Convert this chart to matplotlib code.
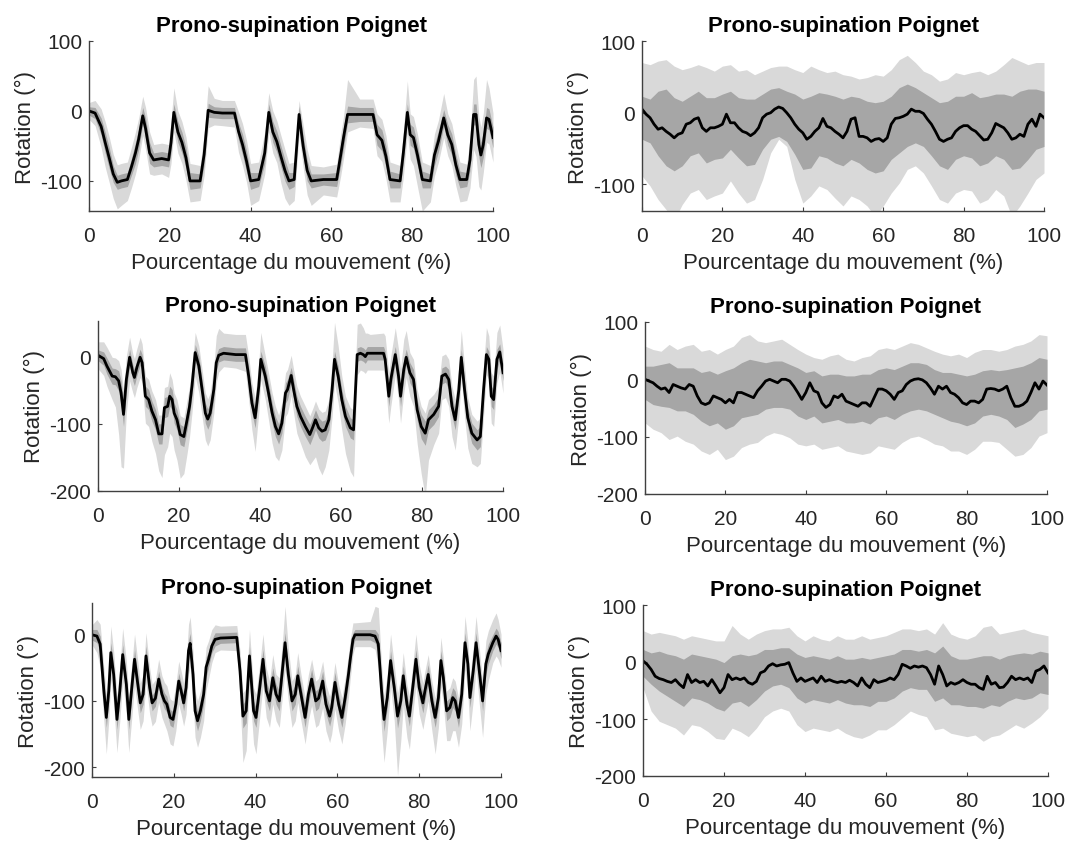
import matplotlib
matplotlib.use("Agg")
import matplotlib.pyplot as plt
import numpy as np

plt.rcParams['font.family'] = ['Liberation Sans', 'DejaVu Sans']
plt.rcParams['axes.unicode_minus'] = False

TITLE = "Prono-supination Poignet"
XLABEL = "Pourcentage du mouvement (%)"
YLABEL = "Rotation (°)"

LIGHT = "#d9d9d9"
DARK = "#a6a6a6"
AXCOL = "#404040"

# ---- left column: mean curve keypoints + band widths (inner, outer up, outer down)
p1_x = [0, 1.5, 3, 4, 5, 6, 7, 8, 9.5, 10.5, 11.5, 12.3, 13.3, 14, 15, 16, 18, 19.7, 20.3, 21,
        22, 23, 24, 25, 27.5, 28.5, 29.5, 31, 33, 36, 37, 38, 39, 40, 42, 43.5, 44.5, 45.5, 46.5, 47.5,
        48.5, 49.5, 50.8, 52, 53, 54, 55, 58, 61.3, 62.3, 63, 64, 67, 70.3, 71.3, 72.5, 73.5, 74.5, 77, 77.8,
        78.8, 79.5, 80.3, 81.3, 82.5, 84.5, 85.5, 86.5, 87.8, 88.8, 89.8, 90.8, 91.8, 93.5, 94.3, 95.2, 95.8, 96.5, 97, 97.6,
        98.4, 99, 100]
p1_y = [0, -3, -22, -45, -67, -90, -102, -100, -98, -80, -60, -40, -7, -25, -60, -70, -68, -70, -45, -2,
        -30, -45, -67, -100, -100, -62, 1, -2, -3, -3, -29, -48, -72, -100, -98, -60, -2, -30, -44, -65,
        -85, -100, -98, -5, -50, -85, -100, -98, -98, -63, -38, -5, -5, -5, -34, -42, -65, -98, -100, -60,
        -2, -34, -38, -63, -98, -100, -63, -43, -10, -34, -48, -77, -98, -98, -70, -5, -5, -48, -63, -48,
        -10, -12, -38]
p1_in = [6, 8, 12, 15, 15, 12, 10, 10, 10, 12, 15, 15, 12, 15, 15, 10, 10, 10, 15, 12,
         15, 15, 15, 12, 10, 15, 10, 8, 8, 8, 12, 15, 15, 12, 10, 15, 12, 15, 15, 15,
         15, 12, 10, 12, 15, 15, 10, 8, 10, 15, 15, 12, 10, 10, 15, 15, 15, 12, 10, 15,
         12, 15, 15, 15, 12, 10, 15, 15, 12, 15, 15, 15, 12, 10, 15, 15, 15, 18, 18, 18,
         15, 15, 15]
p1_up = [12, 18, 25, 30, 30, 28, 25, 25, 25, 28, 30, 30, 28, 30, 30, 22, 22, 22, 30, 35,
         30, 30, 30, 25, 22, 30, 35, 20, 18, 18, 28, 30, 30, 25, 25, 30, 28, 30, 30, 30,
         30, 25, 25, 20, 30, 30, 22, 18, 22, 30, 30, 50, 22, 22, 30, 30, 30, 25, 22, 30,
         45, 30, 30, 30, 25, 22, 30, 30, 35, 30, 30, 30, 25, 22, 30, 50, 55, 40, 40, 45,
         55, 45, 35]
p1_dn = [12, 18, 30, 35, 35, 35, 38, 35, 30, 30, 30, 30, 28, 30, 30, 22, 22, 25, 30, 28,
         30, 30, 32, 30, 28, 30, 25, 18, 18, 20, 30, 30, 30, 35, 30, 30, 28, 30, 30, 38,
         40, 35, 30, 28, 30, 35, 35, 22, 25, 30, 30, 25, 18, 20, 30, 30, 32, 32, 30, 35,
         30, 35, 40, 45, 45, 30, 30, 30, 28, 30, 30, 30, 32, 30, 40, 50, 60, 60, 50, 40,
         35, 35, 35]

p3_x = [0, 1.4, 2.2, 3.5, 4.3, 5.1, 5.7, 6.3, 7.0, 7.8, 8.6, 9.0, 9.6, 10.4, 10.9, 11.7, 12.5, 13.3, 14.2, 15.0,
        15.8, 16.4, 17.2, 17.7, 18.3, 18.8, 19.5, 20.3, 21.2, 22.0, 22.6, 23.2, 24.0, 24.9, 25.7, 26.5, 27.1, 27.7, 28.6, 29.2,
        29.8, 31.0, 34.0, 36.4, 37.2, 38.0, 38.8, 39.7, 40.2, 41.3, 42.1, 43.0, 43.8, 44.6, 45.4, 46.3, 46.8, 47.7, 48.3, 49.1,
        50.0, 51.2, 52.3, 53.1, 53.7, 54.5, 55.3, 56.1, 57.0, 57.8, 58.4, 59.3, 60.2, 61.1, 62.3, 63.1, 64.0, 64.8, 65.5, 66.0,
        66.5, 67.2, 70.5, 70.9, 71.8, 72.3, 73.4, 74.2, 74.7, 75.5, 76.1, 77.0, 77.9, 78.8, 79.8, 80.8, 81.6, 82.9, 84.1, 84.9,
        85.8, 86.6, 87.4, 88.2, 89.1, 89.7, 90.5, 91.3, 92.3, 93.6, 94.4, 95.2, 95.9, 96.5, 97.1, 97.7, 98.5, 99.2, 100]
p3_y = [2, -3, -14, -29, -30, -36, -54, -86, -34, -1, -24, -31, -16, -1, -9, -59, -64, -81, -94, -115,
        -115, -76, -74, -59, -64, -84, -94, -116, -119, -94, -74, -44, 6, -14, -49, -84, -93, -84, -49, -9,
        2, 5, 3, 3, -29, -69, -91, -44, -4, -29, -54, -84, -104, -115, -99, -54, -49, -28, -49, -74,
        -89, -104, -116, -104, -94, -106, -111, -109, -94, -49, -4, -29, -64, -89, -106, -109, 3, 5, 3, 0,
        5, 5, 5, -4, -59, -34, 3, -29, -59, -19, -1, -24, -34, -79, -104, -114, -94, -86, -74, -29,
        -26, -34, -74, -94, -49, -1, -49, -91, -114, -124, -119, -49, 3, -4, -59, -64, -4, 7, -24]
p3_in = [8, 10, 12, 12, 12, 15, 18, 18, 18, 12, 12, 12, 12, 12, 12, 15, 15, 15, 15, 15,
         15, 15, 15, 15, 15, 15, 15, 15, 15, 15, 15, 15, 12, 15, 15, 15, 15, 15, 15, 12,
         10, 10, 10, 10, 15, 15, 15, 15, 12, 15, 15, 15, 15, 15, 15, 15, 15, 12, 15, 15,
         15, 15, 15, 15, 15, 15, 15, 15, 15, 15, 12, 15, 15, 15, 15, 15, 10, 10, 10, 10,
         10, 10, 10, 12, 15, 15, 12, 15, 15, 15, 12, 15, 15, 15, 18, 18, 15, 15, 15, 12,
         12, 15, 15, 15, 15, 12, 15, 15, 15, 15, 15, 15, 12, 12, 15, 15, 15, 12, 12]
p3_up = [20, 25, 28, 28, 28, 30, 35, 35, 35, 30, 28, 28, 28, 30, 28, 30, 30, 30, 30, 28,
         28, 30, 30, 35, 30, 30, 30, 28, 28, 30, 30, 30, 30, 30, 30, 30, 30, 30, 35, 40,
         40, 30, 30, 30, 30, 30, 30, 35, 40, 30, 30, 30, 30, 28, 30, 30, 30, 30, 30, 30,
         30, 30, 28, 28, 28, 28, 28, 28, 30, 40, 55, 45, 35, 30, 30, 30, 45, 45, 40, 35,
         30, 28, 30, 35, 35, 35, 40, 40, 40, 45, 40, 30, 30, 30, 30, 30, 30, 30, 30, 30,
         30, 30, 30, 30, 35, 40, 35, 30, 28, 28, 28, 35, 40, 35, 35, 35, 40, 40, 35]
p3_dn = [20, 25, 30, 35, 45, 80, 110, 80, 50, 35, 30, 30, 30, 30, 30, 40, 40, 45, 50, 55,
         65, 70, 60, 55, 55, 55, 60, 65, 55, 50, 45, 40, 35, 40, 40, 40, 40, 40, 35, 30,
         25, 20, 20, 25, 35, 40, 50, 40, 30, 35, 40, 45, 45, 40, 40, 35, 35, 30, 35, 40,
         40, 45, 45, 50, 55, 60, 65, 55, 45, 40, 35, 40, 45, 55, 65, 70, 30, 25, 25, 25,
         25, 25, 25, 30, 40, 40, 30, 35, 40, 35, 30, 35, 40, 50, 70, 95, 60, 45, 40, 35,
         35, 40, 45, 45, 40, 30, 40, 45, 45, 40, 40, 40, 30, 30, 40, 40, 35, 30, 30]

p5_x = [0, 1.2, 2.0, 2.9, 3.5, 4.1, 4.6, 5.3, 6.1, 6.8, 7.5, 8.4, 9.0, 9.8, 10.4, 11.2, 11.8, 12.5, 13.2, 14.1,
        14.7, 15.5, 16.3, 17.1, 17.7, 18.3, 19.1, 19.8, 20.5, 21.2, 21.8, 22.4, 23.0, 23.6, 24.0, 24.7, 25.2, 25.8, 26.5, 27.3,
        27.9, 28.5, 29.3, 30.1, 31.4, 35.4, 36.2, 36.9, 37.7, 38.5, 39.5, 40.1, 41.0, 41.8, 42.6, 43.4, 44.2, 45.0, 45.8, 46.7,
        47.2, 48.0, 48.9, 49.7, 50.3, 51.1, 52.1, 52.9, 53.7, 54.7, 55.4, 56.4, 57.2, 58.1, 58.6, 59.4, 60.3, 61.1, 61.9, 62.7,
        63.1, 63.8, 64.3, 68.0, 69.2, 70.0, 70.8, 71.4, 72.2, 73.0, 73.9, 74.7, 75.5, 76.1, 77.0, 77.6, 78.6, 79.2, 80.0, 80.9,
        81.4, 82.2, 83.1, 83.9, 84.7, 85.3, 85.9, 86.7, 87.5, 88.2, 88.8, 89.6, 90.4, 91.2, 91.9, 92.4, 93.2, 93.9, 94.7, 95.5,
        96.3, 96.9, 98.0, 98.8, 99.3, 100]
p5_y = [0, -2, -14, -85, -125, -85, -27, -60, -128, -85, -30, -75, -128, -75, -37, -75, -103, -90, -32, -80,
        -103, -96, -67, -90, -100, -105, -125, -128, -105, -70, -85, -103, -80, -24, -13, -60, -115, -130, -115, -90,
        -49, -37, -17, -7, -5, -4, -55, -123, -115, -32, -115, -125, -80, -37, -85, -100, -65, -90, -100, -44,
        -12, -60, -100, -90, -62, -90, -125, -90, -67, -100, -96, -70, -105, -123, -110, -72, -105, -125, -95, -60,
        -39, -7, 0, 0, -2, -14, -85, -128, -95, -39, -80, -123, -100, -62, -105, -123, -70, -37, -80, -103,
        -85, -60, -100, -125, -95, -39, -65, -115, -110, -95, -100, -125, -90, -12, -44, -95, -55, -12, -55, -100,
        -44, -29, -12, -2, -7, -24]
p5_in = [8, 10, 12, 15, 15, 15, 15, 15, 15, 15, 15, 15, 15, 15, 15, 15, 15, 15, 15, 15,
         12, 12, 12, 12, 12, 12, 12, 12, 12, 12, 12, 12, 15, 15, 15, 15, 15, 15, 15, 15,
         15, 12, 10, 10, 8, 8, 15, 18, 18, 15, 15, 15, 15, 15, 15, 15, 15, 15, 15, 15,
         15, 15, 15, 15, 15, 15, 15, 15, 15, 15, 15, 15, 15, 15, 15, 15, 15, 15, 15, 15,
         12, 10, 8, 8, 10, 15, 18, 18, 15, 15, 15, 18, 15, 15, 15, 15, 15, 15, 15, 15,
         15, 15, 15, 15, 15, 15, 15, 15, 15, 15, 15, 15, 15, 15, 15, 15, 15, 15, 15, 15,
         15, 15, 12, 12, 12, 12]
p5_up = [15, 25, 30, 35, 35, 35, 40, 35, 35, 35, 40, 35, 35, 35, 38, 35, 30, 30, 35, 30,
         28, 28, 30, 28, 28, 28, 28, 28, 30, 30, 30, 30, 35, 40, 40, 35, 30, 30, 30, 30,
         30, 28, 25, 22, 18, 18, 30, 35, 35, 40, 35, 35, 35, 38, 35, 30, 35, 30, 35, 45,
         55, 40, 30, 30, 35, 30, 30, 30, 30, 30, 30, 30, 30, 30, 30, 30, 30, 30, 30, 30,
         30, 25, 18, 20, 45, 55, 40, 35, 35, 40, 35, 35, 35, 35, 30, 30, 35, 38, 35, 30,
         30, 30, 30, 30, 30, 35, 30, 30, 30, 30, 30, 30, 35, 40, 35, 30, 35, 40, 35, 30,
         35, 35, 35, 35, 30, 25]
p5_dn = [15, 25, 35, 45, 55, 45, 40, 45, 50, 45, 40, 45, 50, 45, 40, 40, 40, 40, 40, 40,
         35, 35, 35, 35, 35, 40, 40, 40, 40, 35, 35, 35, 40, 35, 35, 40, 40, 40, 40, 40,
         35, 30, 25, 20, 18, 20, 45, 70, 60, 45, 50, 55, 45, 40, 40, 40, 40, 40, 40, 40,
         40, 40, 40, 40, 40, 40, 40, 40, 40, 40, 40, 40, 40, 40, 40, 40, 40, 40, 40, 35,
         30, 22, 18, 18, 20, 35, 60, 65, 50, 40, 50, 90, 60, 45, 50, 50, 40, 40, 40, 40,
         40, 40, 45, 55, 45, 40, 40, 45, 50, 50, 45, 45, 45, 40, 45, 50, 45, 40, 50, 55,
         45, 40, 30, 30, 30, 25]

# ---- right column: mean at every 1 %, bands at every 2 %
pct = list(range(0, 101))
band_pct = list(range(0, 101, 2))

p2_y = [5, -2, -7, -16, -23, -21, -26, -30, -35, -30,
        -28, -16, -14, -9, -7, -21, -26, -21, -21, -19,
        -16, -2, -14, -14, -21, -26, -28, -32, -28, -21,
        -7, -2, 0, 5, 8, 6, 0, -7, -16, -23,
        -28, -37, -33, -26, -21, -8, -19, -21, -26, -30,
        -35, -26, -9, -7, -33, -33, -35, -40, -37, -36,
        -40, -35, -16, -8, -7, -5, -2, 5, 2, 2,
        -1, -9, -16, -26, -37, -40, -37, -35, -26, -21,
        -18, -18, -23, -26, -32, -38, -37, -28, -15, -18,
        -21, -28, -37, -35, -30, -33, -16, -9, -19, -2,
        -7]
p2_out_hi = [70, 67, 72, 74, 65, 60, 63, 67, 63, 58, 65, 67, 58, 60, 53, 58, 63, 65, 65, 60,
             56, 65, 60, 56, 58, 53, 51, 47, 49, 53, 51, 60, 74, 80, 70, 58, 53, 44, 47, 56,
             53, 56, 58, 53, 58, 67, 77, 72, 67, 70, 70]
p2_in_hi = [23, 19, 30, 33, 21, 16, 23, 30, 21, 21, 26, 30, 21, 19, 19, 26, 33, 35, 30, 26,
            19, 23, 28, 26, 23, 19, 23, 21, 16, 14, 16, 23, 35, 40, 35, 28, 21, 14, 16, 23,
            23, 28, 21, 23, 26, 26, 23, 30, 33, 33, 30]
p2_in_lo = [-37, -42, -60, -74, -81, -74, -60, -56, -70, -65, -63, -51, -63, -74, -72, -51, -37, -33, -40, -58,
            -79, -77, -60, -63, -70, -74, -65, -70, -79, -84, -81, -65, -56, -47, -42, -47, -60, -74, -79, -65,
            -60, -63, -74, -70, -60, -65, -79, -77, -65, -51, -47]
p2_out_lo = [-88, -102, -121, -135, -150, -128, -112, -107, -121, -116, -112, -95, -112, -126, -121, -93, -56, -37, -47, -93,
             -126, -116, -102, -107, -119, -130, -116, -121, -130, -145, -130, -112, -98, -79, -74, -84, -102, -121, -126, -112,
             -107, -109, -126, -121, -107, -116, -145, -130, -112, -93, -84]

p4_y = [0, -3, -6, -12, -17, -15, -23, -9, -12, -15,
        -17, -9, -12, -29, -41, -44, -41, -29, -32, -35,
        -41, -35, -41, -23, -23, -26, -29, -32, -20, -12,
        -3, 0, -3, -6, 0, 0, -3, -12, -23, -35,
        -23, -6, -20, -23, -41, -49, -44, -29, -32, -26,
        -38, -41, -44, -47, -41, -41, -47, -32, -17, -17,
        -20, -26, -35, -23, -20, -9, -3, 0, 1, -1,
        -6, -15, -26, -12, -17, -12, -23, -26, -32, -41,
        -44, -38, -38, -41, -35, -17, -16, -17, -20, -17,
        -12, -32, -47, -47, -44, -38, -23, -6, -17, -3,
        -10]
p4_out_hi = [58, 52, 49, 61, 52, 58, 61, 49, 52, 44, 52, 58, 73, 78, 67, 64, 67, 70, 61, 52,
             44, 38, 35, 41, 44, 35, 32, 38, 41, 52, 55, 52, 58, 64, 61, 55, 49, 44, 41, 44,
             38, 47, 52, 52, 49, 52, 58, 61, 67, 78, 76]
p4_in_hi = [23, 23, 26, 29, 20, 20, 20, 12, 15, 9, 15, 20, 29, 35, 32, 29, 32, 32, 26, 20,
            12, 15, 6, 9, 9, 6, 6, 9, 9, 17, 20, 17, 23, 29, 29, 26, 17, 12, 12, 9,
            6, 9, 15, 17, 15, 17, 20, 23, 29, 38, 35]
p4_in_lo = [-35, -44, -47, -49, -55, -55, -61, -73, -81, -76, -87, -81, -67, -64, -61, -52, -49, -49, -52, -64,
            -70, -64, -76, -73, -70, -76, -76, -73, -78, -67, -64, -70, -61, -55, -52, -55, -61, -67, -73, -76,
            -81, -76, -64, -61, -64, -70, -84, -78, -70, -55, -52]
p4_out_lo = [-76, -87, -93, -105, -99, -108, -113, -125, -131, -122, -140, -134, -119, -113, -110, -99, -93, -96, -102, -113,
             -116, -113, -122, -119, -116, -125, -128, -131, -128, -116, -119, -122, -110, -102, -99, -105, -113, -116, -125, -125,
             -131, -122, -108, -108, -110, -122, -134, -131, -119, -99, -93]

p6_y = [2, -4, -13, -25, -29, -31, -34, -36, -31, -39,
        -45, -22, -36, -31, -36, -34, -42, -31, -42, -54,
        -45, -22, -31, -28, -31, -28, -36, -39, -34, -19,
        -16, -7, -3, -7, -5, -4, -1, -19, -34, -28,
        -34, -31, -28, -36, -25, -34, -31, -34, -36, -34,
        -36, -32, -36, -42, -28, -39, -45, -31, -36, -34,
        -32, -28, -31, -22, -4, -7, -11, -7, -9, -7,
        -10, -22, -39, -7, -22, -42, -36, -39, -36, -31,
        -36, -39, -39, -45, -48, -25, -39, -36, -45, -44,
        -36, -25, -31, -28, -31, -28, -36, -16, -13, -7,
        -19]
p6_out_hi = [55, 49, 52, 49, 46, 40, 46, 43, 40, 37, 37, 64, 49, 40, 49, 55, 58, 58, 61, 46,
             37, 46, 40, 37, 46, 40, 40, 46, 40, 43, 46, 52, 58, 58, 55, 58, 49, 69, 49, 43,
             40, 46, 61, 64, 49, 52, 55, 58, 52, 49, 46]
p6_in_hi = [22, 16, 19, 14, 11, 5, 14, 11, 8, 5, -1, 11, 14, 11, 14, 22, 22, 25, 25, 14,
            8, 11, 8, 5, 11, 5, 5, 8, 5, 8, 11, 14, 22, 22, 19, 22, 16, 28, 11, 5,
            5, 8, 11, 11, 5, 11, 14, 16, 14, 19, 16]
p6_in_lo = [-25, -39, -51, -60, -69, -78, -63, -66, -72, -81, -86, -72, -69, -78, -66, -51, -42, -39, -45, -63,
            -72, -66, -69, -72, -66, -72, -75, -75, -78, -69, -69, -63, -51, -45, -48, -48, -69, -63, -75, -75,
            -78, -78, -81, -75, -78, -69, -63, -66, -63, -54, -57]
p6_out_lo = [-45, -86, -104, -110, -116, -128, -110, -113, -122, -134, -136, -116, -122, -131, -116, -96, -86, -81, -86, -110,
             -122, -116, -119, -122, -116, -125, -131, -134, -128, -119, -119, -110, -98, -86, -92, -96, -119, -116, -125, -128,
             -131, -128, -139, -131, -128, -119, -110, -116, -107, -96, -81]

# axes boxes in pixels: left, right, top, bottom
W, H = 1091, 845
boxes = {
    1: (89, 493, 42, 212),
    2: (642, 1044, 42, 212),
    3: (98, 503, 322, 492),
    4: (645, 1047, 323, 495),
    5: (92, 501, 604, 778),
    6: (643, 1048, 606, 777),
}
ylims = {1: (-143, 100), 2: (-137, 100), 3: (-200, 53), 4: (-200, 100), 5: (-215, 48), 6: (-200, 100)}
yticks = {1: [-100, 0, 100], 2: [-100, 0, 100], 3: [-200, -100, 0], 4: [-200, -100, 0, 100],
          5: [-200, -100, 0], 6: [-200, -100, 0, 100]}


def make_axes(fig, n):
    l, r, t, b = boxes[n]
    ax = fig.add_axes([l / W, 1 - b / H, (r - l) / W, (b - t) / H])
    ax.set_xlim(0, 100)
    ax.set_ylim(*ylims[n])
    ax.set_xticks([0, 20, 40, 60, 80, 100])
    ax.set_yticks(yticks[n])
    for s in ["top", "right"]:
        ax.spines[s].set_visible(False)
    for s in ["left", "bottom"]:
        ax.spines[s].set_color(AXCOL)
        ax.spines[s].set_linewidth(1.0)
    ax.tick_params(direction="in", length=3, width=0.8, color=AXCOL, labelcolor="#262626",
                   labelsize=15)
    ax.tick_params(axis="x", pad=11)
    ax.tick_params(axis="y", pad=5)
    ax.set_title(TITLE, fontsize=16, fontweight="bold", pad=7)
    ax.set_xlabel(XLABEL, fontsize=16, color="#262626", labelpad=5)
    ax.set_ylabel(YLABEL, fontsize=16, color="#262626", labelpad=3)
    return ax


def plot_left(ax, x, y, w_in, w_up, w_dn):
    x = np.array(x, dtype=float)
    y = np.array(y, dtype=float)
    w_in = np.array(w_in, dtype=float)
    ax.fill_between(x, y - np.array(w_dn), y + np.array(w_up), color=LIGHT, lw=0)
    ax.fill_between(x, y - w_in, y + w_in, color=DARK, lw=0)
    ax.plot(x, y, color="black", lw=2.0)


def plot_right(ax, y, out_hi, in_hi, in_lo, out_lo):
    ax.fill_between(band_pct, out_lo, out_hi, color=LIGHT, lw=0)
    ax.fill_between(band_pct, in_lo, in_hi, color=DARK, lw=0)
    ax.plot(pct, y, color="black", lw=2.0)


fig = plt.figure(figsize=(W / 100, H / 100), dpi=100)

plot_left(make_axes(fig, 1), p1_x, p1_y, p1_in, p1_up, p1_dn)
plot_right(make_axes(fig, 2), p2_y, p2_out_hi, p2_in_hi, p2_in_lo, p2_out_lo)
plot_left(make_axes(fig, 3), p3_x, p3_y, p3_in, p3_up, p3_dn)
plot_right(make_axes(fig, 4), p4_y, p4_out_hi, p4_in_hi, p4_in_lo, p4_out_lo)
plot_left(make_axes(fig, 5), p5_x, p5_y, p5_in, p5_up, p5_dn)
plot_right(make_axes(fig, 6), p6_y, p6_out_hi, p6_in_hi, p6_in_lo, p6_out_lo)

fig.savefig("out.png", dpi=100, facecolor="white")
